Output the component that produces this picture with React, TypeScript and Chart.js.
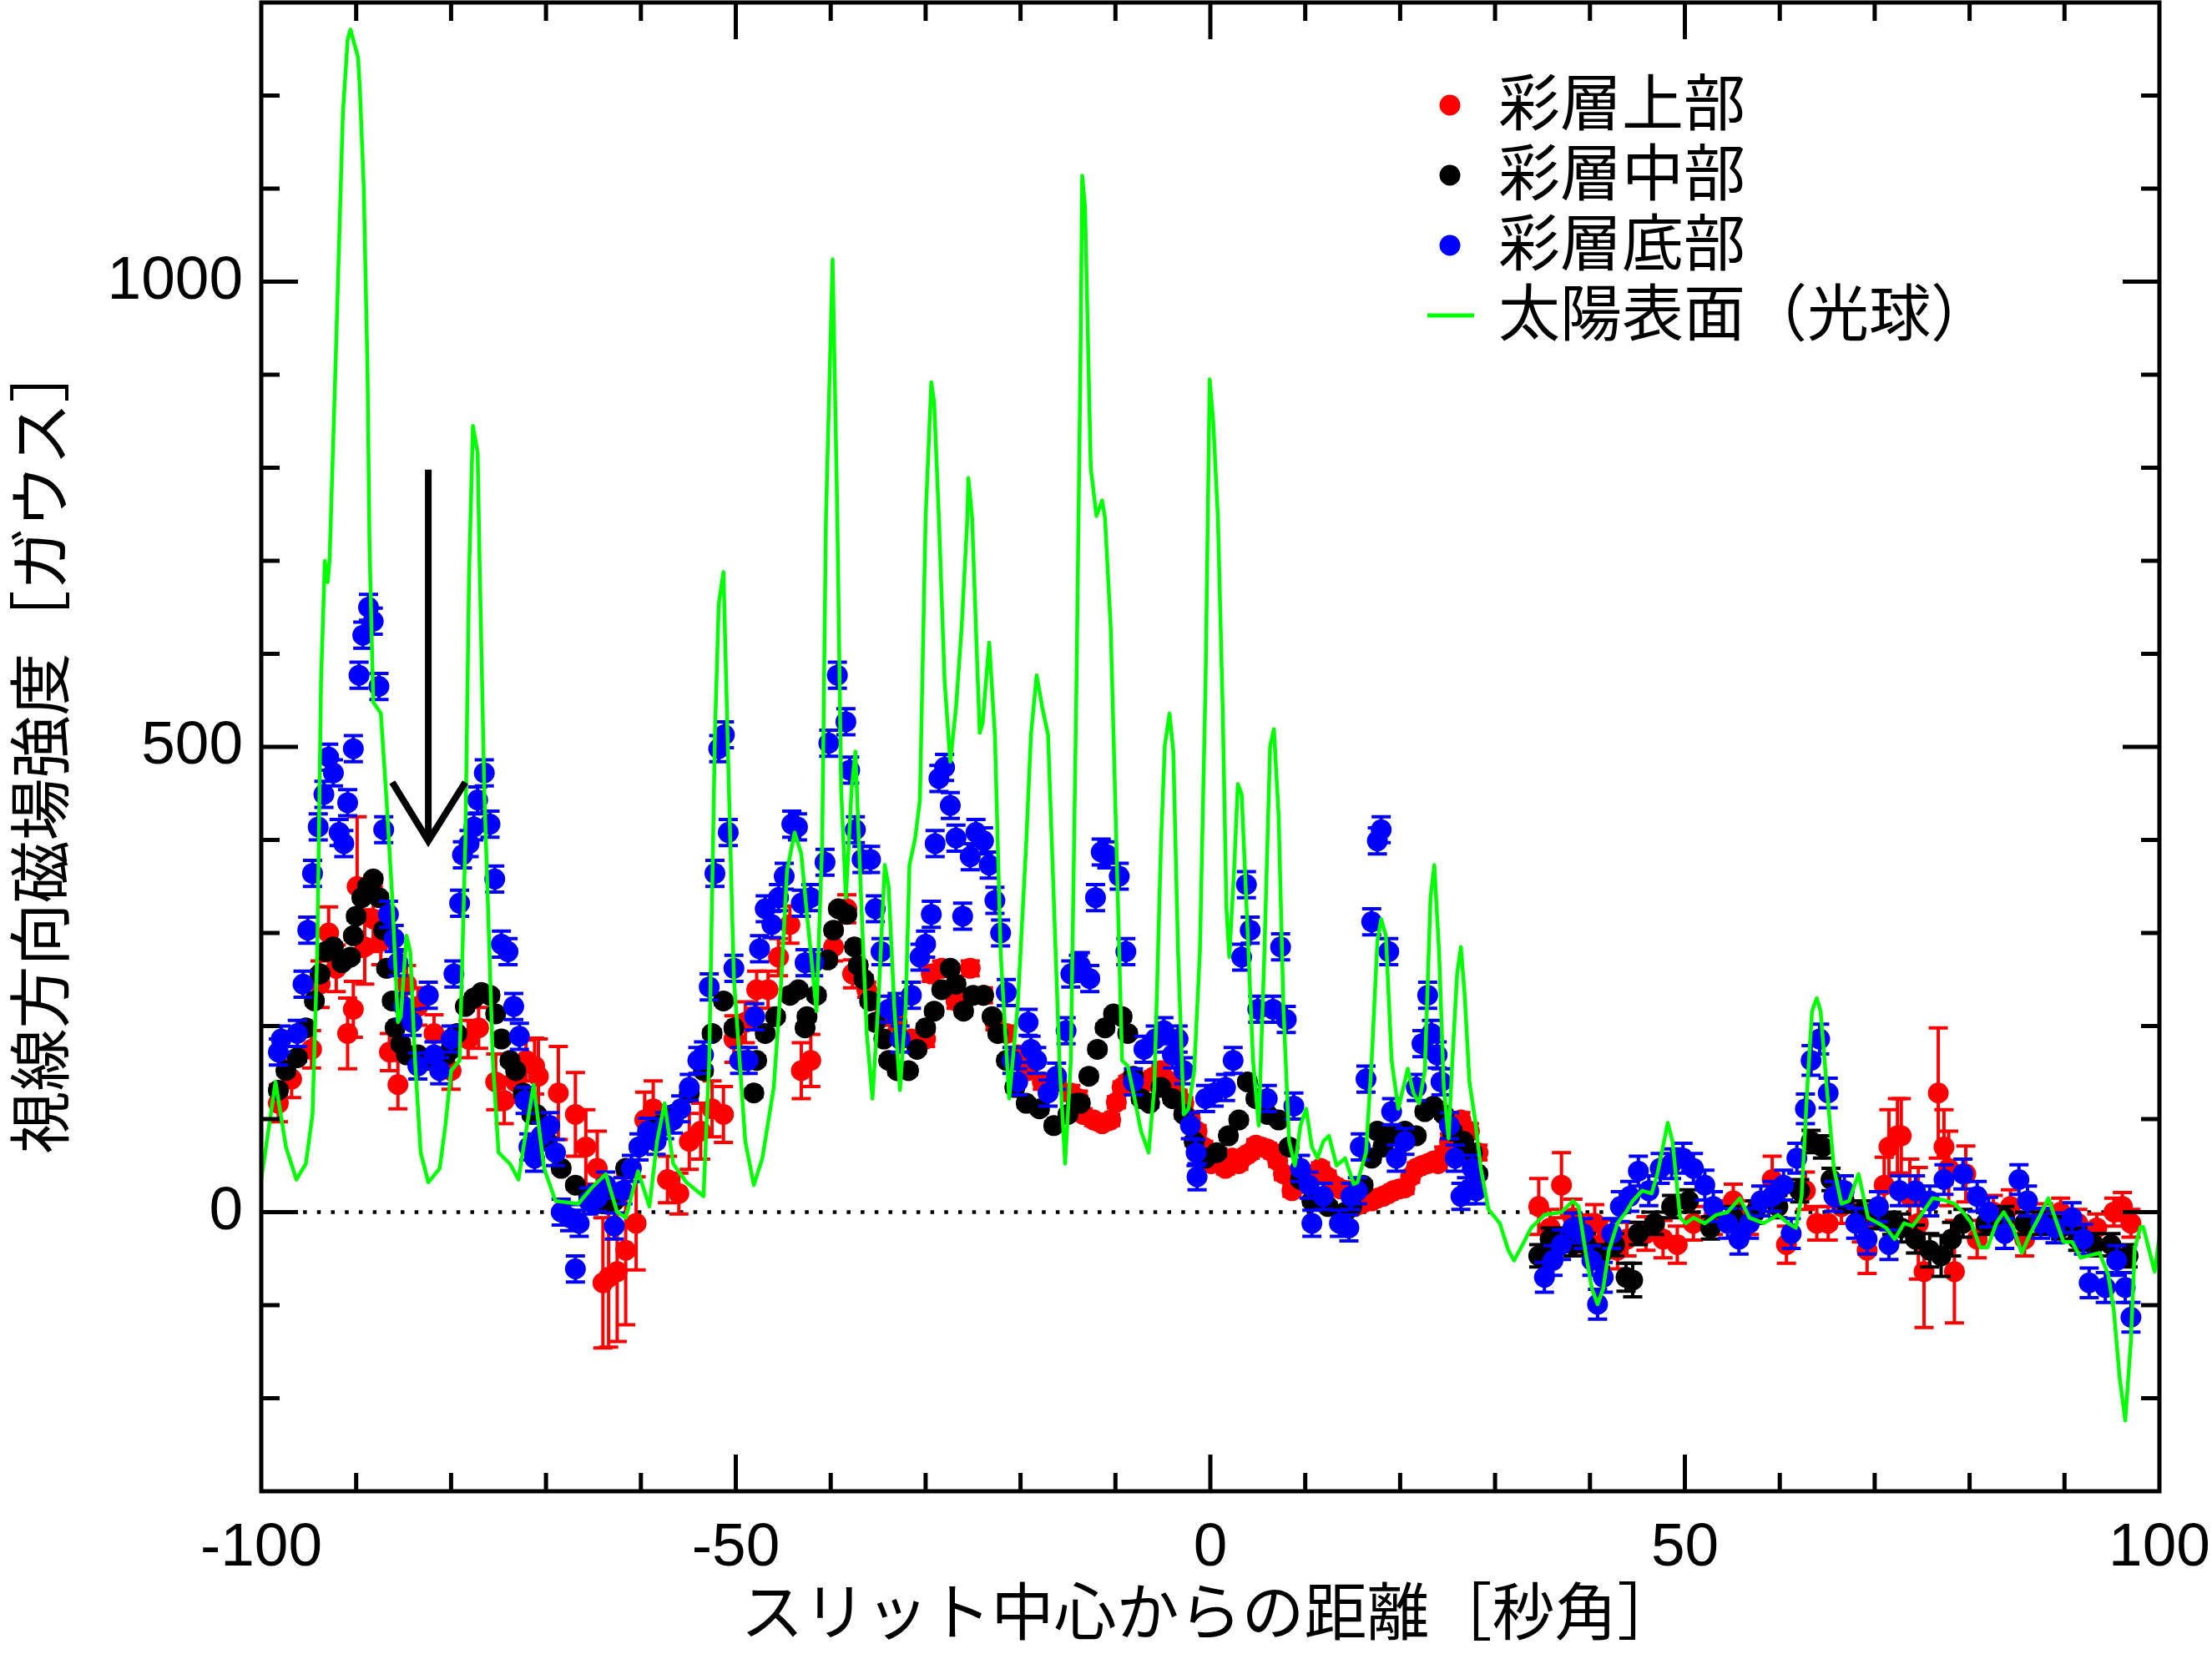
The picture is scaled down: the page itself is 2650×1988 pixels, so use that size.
import React, { useEffect, useRef } from 'react';
import { Chart, registerables } from 'chart.js';

Chart.register(...registerables);

// ---------- axes ----------
const X_MIN = -100;
const X_MAX = 100;
const Y_MIN = -300;
const Y_MAX = 1300;
const X_TICK_STEP = 10;
const X_LABEL_STEP = 50;
const Y_TICK_STEP = 100;
const Y_LABEL_STEP = 500;
const X_TITLE = 'スリット中心からの距離［秒角］';
const Y_TITLE = '視線方向磁場強度［ガウス］';

// ---------- legend ----------
const LEGEND_LABELS = ['彩層上部', '彩層中部', '彩層底部', '太陽表面（光球）'];
const SERIES_COLORS = ['#ff0000', '#000000', '#0000ff', '#00ff00'];

// ---------- data: [x, y, error] ----------
const RED_DATA: number[][] = [
  [-98.2, 117, 20], [-96.8, 143, 20], [-94.7, 175, 20], [-93.8, 245, 25], [-92.9, 300, 28], [-92.1, 262, 25],
  [-90.9, 192, 38], [-90.3, 218, 30], [-89.9, 350, 75], [-89.1, 285, 40], [-88.2, 315, 35], [-87.4, 291, 25],
  [-86.5, 172, 20], [-85.6, 137, 26], [-84.7, 245, 20], [-83.5, 221, 20], [-81.8, 192, 20], [-80.0, 152, 20],
  [-78.2, 186, 20], [-77.1, 198, 22], [-75.3, 140, 30], [-74.4, 120, 25], [-73.2, 140, 22], [-72.1, 163, 22],
  [-71.2, 157, 30], [-70.8, 146, 40], [-68.7, 128, 50], [-66.9, 105, 45], [-65.8, 70, 40], [-64.6, 47, 40],
  [-64.0, -76, 70], [-63.4, -70, 75], [-62.5, -64, 75], [-61.6, -41, 80], [-60.5, -12, 50], [-59.6, 99, 30],
  [-58.7, 111, 30], [-57.2, 35, 25], [-56.0, 20, 22], [-54.9, 76, 30], [-53.7, 87, 30], [-52.5, 111, 30],
  [-51.3, 105, 30], [-50.2, 186, 25], [-49.0, 204, 22], [-47.8, 239, 20], [-46.6, 239, 20], [-45.5, 274, 20],
  [-44.3, 309, 20], [-43.1, 152, 30], [-42.1, 163, 28], [-39.7, 285, 15], [-38.3, 326, 15], [-37.7, 256, 15],
  [-36.2, 239, 8], [-34.4, 210, 8], [-33.0, 204, 8], [-31.5, 186, 8], [-30.0, 186, 8], [-29.4, 256, 8],
  [-28.3, 262, 8], [-26.8, 227, 8], [-25.3, 262, 8], [-23.9, 233, 8], [-22.7, 204, 8], [-21.5, 192, 8],
  [-20.3, 169, 8], [-19.2, 152, 8], [-17.7, 140, 8], [-16.2, 140, 8], [-14.7, 128, 8], [-13.9, 122, 8],
  [-13.4, 105, 6], [-12.3, 99, 6], [-11.4, 95, 6], [-10.5, 99, 6], [-9.9, 118, 6], [-9.3, 134, 6],
  [-8.7, 140, 6], [-8.1, 140, 6], [-7.4, 138, 6], [-6.7, 140, 6], [-6.0, 145, 6], [-5.2, 152, 6],
  [-4.6, 142, 6], [-4.0, 134, 6], [-3.4, 125, 6], [-2.8, 117, 6], [-2.1, 100, 6], [-1.4, 87, 6],
  [-0.7, 70, 6], [0.1, 52, 6], [0.8, 62, 6], [1.6, 47, 6], [2.3, 58, 6], [3.0, 52, 6],
  [3.6, 60, 6], [4.2, 64, 6], [4.8, 72, 6], [5.4, 70, 6], [6.0, 68, 6], [6.6, 64, 6],
  [7.1, 55, 6], [7.7, 41, 6], [8.6, 23, 6], [9.3, 30, 6], [10.1, 35, 6], [10.8, 40, 6],
  [11.6, 47, 6], [12.3, 38, 6], [13.0, 29, 6], [13.7, 25, 6], [14.5, 23, 6], [15.2, 6, 6],
  [16.1, 10, 6], [17.0, 12, 6], [17.6, 15, 6], [18.2, 17, 6], [18.8, 20, 6], [19.3, 23, 6],
  [19.9, 25, 6], [20.5, 26, 6], [21.1, 38, 6], [21.7, 47, 6], [22.3, 50, 6], [22.9, 52, 6],
  [23.5, 55, 6], [24.0, 52, 6], [24.6, 62, 8], [25.2, 76, 8], [25.8, 90, 8], [26.4, 99, 8],
  [27.3, 87, 8], [28.2, 64, 8],
  [34.6, 6, 30], [35.8, -17, 20], [37.0, 29, 35], [38.2, -6, 20], [39.3, -23, 20], [40.5, -12, 20],
  [41.7, -29, 20], [42.9, -41, 20], [43.9, -29, 18], [45.9, -23, 18], [47.7, -29, 20], [49.2, -35, 20],
  [50.9, -12, 18], [53.0, -6, 18], [55.1, 12, 18], [56.8, -6, 18], [59.2, 35, 25], [60.7, -35, 20],
  [62.7, 23, 20], [63.9, -12, 18], [65.1, -12, 18], [66.5, 6, 18], [68.6, -12, 20], [69.2, -41, 25],
  [71.0, 29, 30], [71.5, 70, 40], [72.4, 82, 40], [72.8, 82, 40], [73.7, 17, 40], [74.6, -12, 60],
  [75.2, -64, 60], [76.7, 128, 70], [77.3, 70, 40], [77.8, 47, 40], [78.4, -64, 55], [79.6, 41, 30],
  [80.8, -29, 20], [82.5, 0, 18], [84.3, 6, 18], [85.8, -29, 18], [87.8, -6, 15], [89.6, 0, 15],
  [91.4, -12, 15], [93.4, -17, 15], [95.2, 0, 15], [96.1, 6, 15], [97.0, -12, 15],
];

const BLACK_DATA: number[][] = [
  [-98.2, 131, 4], [-97.4, 152, 4], [-96.2, 166, 4], [-95.3, 198, 4], [-94.4, 227, 4], [-93.8, 256, 4],
  [-93.2, 280, 4], [-92.4, 285, 4], [-91.5, 268, 4], [-90.6, 274, 4], [-90.3, 297, 4], [-90.0, 318, 4],
  [-89.4, 338, 4], [-88.8, 350, 4], [-88.2, 358, 4], [-87.6, 338, 4], [-87.1, 303, 4], [-86.8, 262, 4],
  [-86.2, 227, 4], [-85.9, 198, 4], [-85.3, 181, 4], [-84.7, 169, 4], [-84.1, 168, 4], [-83.5, 169, 4],
  [-82.9, 165, 4], [-82.4, 163, 4], [-81.8, 164, 4], [-81.2, 163, 4], [-80.6, 168, 4], [-80.0, 175, 4],
  [-79.4, 192, 4], [-78.5, 221, 4], [-77.6, 230, 4], [-76.8, 236, 4], [-75.9, 233, 4], [-75.3, 213, 4],
  [-74.7, 186, 4], [-73.8, 163, 4], [-73.2, 152, 4], [-72.4, 128, 4], [-71.5, 105, 4], [-71.0, 105, 4],
  [-69.9, 76, 4], [-68.4, 47, 4], [-66.9, 29, 4], [-65.5, 17, 4], [-64.0, 9, 4], [-62.8, 12, 4],
  [-61.6, 47, 4], [-60.2, 70, 4], [-58.1, 93, 4], [-56.6, 105, 4], [-54.9, 128, 4], [-53.4, 152, 4],
  [-52.5, 192, 4], [-51.3, 227, 4], [-50.2, 198, 4], [-49.0, 163, 4], [-48.1, 128, 4], [-47.8, 163, 4],
  [-46.9, 192, 4], [-45.8, 210, 4], [-44.3, 233, 4], [-43.4, 239, 4], [-42.5, 210, 4], [-42.7, 198, 4],
  [-41.5, 233, 4], [-40.3, 271, 4], [-39.7, 303, 4], [-39.2, 326, 4], [-38.3, 320, 4], [-37.5, 285, 4],
  [-37.1, 265, 4], [-36.5, 250, 4], [-35.9, 227, 4], [-35.3, 204, 4], [-34.4, 186, 4], [-33.9, 163, 4],
  [-33.0, 152, 4], [-31.8, 152, 4], [-30.9, 175, 4], [-30.0, 198, 4], [-29.1, 216, 4], [-28.3, 239, 4],
  [-27.4, 262, 4], [-26.8, 245, 4], [-26.0, 216, 4], [-25.0, 233, 4], [-23.9, 233, 4], [-23.0, 210, 4],
  [-22.4, 192, 4], [-21.5, 163, 4], [-20.6, 134, 4], [-19.4, 117, 4], [-18.0, 111, 4], [-16.5, 93, 4],
  [-15.0, 105, 4], [-14.1, 117, 4], [-13.7, 117, 4], [-12.8, 146, 4], [-11.9, 175, 4], [-11.1, 198, 4],
  [-10.2, 213, 4], [-9.3, 210, 4], [-8.7, 192, 4], [-8.1, 146, 4], [-7.3, 122, 4], [-6.4, 117, 4],
  [-5.2, 134, 4], [-4.0, 122, 4], [-2.8, 105, 4], [-1.7, 76, 4], [-0.5, 58, 4], [0.7, 64, 4],
  [1.9, 82, 4], [3.0, 99, 4], [3.9, 140, 4], [4.8, 122, 4], [6.0, 105, 4], [7.2, 99, 4],
  [8.3, 70, 4], [9.5, 35, 4], [10.7, 12, 4], [12.4, 6, 4], [14.2, 0, 4], [14.9, 6, 4],
  [16.1, 29, 4], [17.0, 58, 4], [17.6, 87, 4], [18.2, 70, 4], [19.1, 82, 4], [20.5, 87, 4],
  [21.7, 82, 4], [22.6, 108, 4], [23.5, 114, 4], [24.6, 105, 4], [25.5, 87, 4], [26.7, 76, 4],
  [27.6, 64, 4], [28.2, 41, 4], [34.6, -47, 12], [35.8, -29, 12], [37.0, -29, 12], [38.2, -35, 12],
  [39.6, -35, 12], [41.1, -47, 12], [42.6, -35, 12], [43.8, -70, 15], [44.5, -73, 18], [45.1, -23, 12],
  [46.8, -12, 12], [48.6, 6, 12], [50.4, 12, 12], [52.7, -17, 12], [55.1, -6, 12], [57.4, 0, 12],
  [59.8, 6, 12], [62.1, 23, 12], [63.3, 76, 12], [64.5, 70, 12], [65.4, 35, 12], [66.8, 12, 12],
  [68.6, 0, 12], [70.4, -6, 12], [71.8, -12, 12], [72.8, -17, 15], [74.3, -29, 15], [75.8, -41, 18],
  [77.0, -47, 22], [78.1, -29, 18], [79.3, -12, 15], [81.7, -12, 12], [83.7, -6, 12], [85.8, -12, 12],
  [87.8, -12, 12], [89.6, -17, 12], [91.4, -29, 12], [93.1, -35, 12], [94.9, -35, 12], [96.7, -47, 12],
];

const BLUE_DATA: number[][] = [
  [-98.2, 172, 14], [-97.9, 186, 14], [-96.2, 192, 14], [-95.6, 245, 14], [-95.1, 303, 14], [-94.6, 364, 14],
  [-94.0, 414, 14], [-93.4, 449, 14], [-92.9, 489, 14], [-92.4, 472, 14], [-91.8, 408, 14], [-91.3, 396, 14],
  [-90.9, 440, 14], [-90.3, 498, 14], [-89.7, 577, 14], [-89.3, 620, 14], [-88.7, 650, 14], [-88.2, 635, 14],
  [-87.6, 565, 14], [-87.1, 411, 14], [-86.6, 320, 14], [-86.0, 294, 14], [-85.6, 268, 14], [-85.0, 221, 14],
  [-84.1, 204, 14], [-83.5, 157, 14], [-82.4, 233, 14], [-81.8, 169, 14], [-81.2, 152, 14], [-80.0, 186, 14],
  [-79.7, 256, 14], [-79.1, 332, 14], [-78.8, 384, 14], [-78.1, 396, 14], [-77.6, 414, 14], [-77.2, 443, 14],
  [-76.5, 472, 14], [-75.9, 417, 14], [-75.4, 358, 14], [-74.7, 288, 14], [-74.0, 280, 14], [-73.4, 221, 14],
  [-72.8, 189, 14], [-72.2, 120, 14], [-71.8, 70, 14], [-71.2, 58, 14], [-70.5, 82, 14], [-69.6, 93, 14],
  [-69.0, 64, 14], [-68.4, 0, 14], [-67.5, -6, 14], [-66.9, -61, 14], [-66.5, -12, 14], [-65.5, 12, 14],
  [-64.6, 15, 14], [-63.7, 29, 14], [-62.8, -15, 14], [-61.9, 23, 14], [-61.0, 47, 14], [-60.2, 70, 14],
  [-59.3, 87, 14], [-58.4, 76, 14], [-57.5, 93, 14], [-56.6, 99, 14], [-55.8, 111, 14], [-54.9, 134, 14],
  [-54.0, 163, 14], [-53.4, 169, 14], [-52.8, 242, 14], [-52.2, 364, 14], [-51.8, 498, 14], [-51.2, 513, 14],
  [-50.8, 408, 14], [-50.2, 262, 14], [-49.6, 163, 14], [-48.7, 163, 14], [-48.0, 210, 14], [-47.5, 283, 14],
  [-46.9, 326, 14], [-46.2, 309, 14], [-45.5, 338, 14], [-44.9, 361, 14], [-44.1, 417, 14], [-43.5, 414, 14],
  [-43.1, 332, 14], [-42.7, 268, 14], [-42.1, 338, 14], [-41.8, 268, 14], [-40.6, 376, 14], [-40.2, 504, 14],
  [-39.3, 577, 14], [-38.4, 527, 14], [-38.0, 475, 14], [-37.4, 411, 14], [-36.7, 379, 14], [-35.8, 379, 14],
  [-35.3, 326, 14], [-34.7, 280, 14], [-33.9, 218, 14], [-33.0, 221, 14], [-32.7, 186, 14], [-31.5, 233, 14],
  [-30.6, 274, 14], [-30.0, 288, 14], [-29.4, 320, 14], [-29.0, 396, 14], [-28.6, 466, 14], [-28.0, 478, 14],
  [-27.4, 437, 14], [-26.8, 402, 14], [-26.1, 318, 14], [-25.3, 382, 14], [-24.7, 408, 14], [-23.9, 399, 14],
  [-23.3, 373, 14], [-22.7, 335, 14], [-22.1, 300, 14], [-21.5, 236, 14], [-20.9, 163, 14], [-20.3, 140, 14],
  [-19.2, 204, 14], [-18.9, 175, 14], [-18.3, 163, 14], [-17.1, 128, 14], [-16.2, 146, 14], [-15.2, 195, 14],
  [-14.7, 256, 14], [-13.9, 262, 14], [-13.7, 265, 14], [-12.7, 251, 14], [-12.1, 338, 14], [-11.5, 387, 14],
  [-10.9, 384, 14], [-9.6, 361, 14], [-8.9, 280, 14], [-8.1, 140, 14], [-7.0, 175, 14], [-5.8, 186, 14],
  [-4.9, 195, 14], [-4.0, 169, 14], [-3.4, 186, 14], [-2.8, 152, 14], [-2.1, 93, 14], [-1.5, 64, 14],
  [-1.4, 38, 14], [-0.5, 122, 14], [0.4, 128, 14], [1.6, 134, 14], [2.4, 163, 14], [3.3, 274, 14],
  [3.8, 352, 14], [4.2, 303, 14], [5.0, 218, 14], [6.0, 122, 14], [6.6, 218, 14], [7.4, 285, 14],
  [8.0, 207, 14], [8.8, 114, 14], [9.5, 47, 14], [10.4, 29, 14], [10.7, -12, 14], [11.9, 17, 14],
  [13.6, -12, 14], [14.8, 17, 14], [14.6, -17, 14], [15.5, 23, 14], [15.8, 70, 14], [16.4, 143, 14],
  [17.0, 312, 14], [17.6, 399, 14], [18.0, 411, 14], [18.8, 280, 14], [19.1, 108, 14], [19.6, 58, 14],
  [20.5, 76, 14], [21.7, 134, 14], [22.3, 181, 14], [22.9, 233, 14], [23.3, 192, 14], [23.9, 169, 14],
  [24.3, 140, 14], [25.2, 93, 14], [25.8, 58, 14], [26.4, 17, 14], [27.0, 23, 14], [27.6, 47, 14],
  [28.0, 23, 14], [35.2, -70, 16], [36.1, -52, 16], [37.0, -35, 16], [38.2, -17, 16], [39.3, -23, 16],
  [40.2, -52, 16], [40.8, -99, 16], [41.4, -70, 16], [42.3, -23, 16], [43.2, 6, 16], [44.2, 17, 16],
  [45.1, 44, 16], [46.2, 23, 16], [47.4, 47, 16], [48.6, 52, 16], [49.8, 58, 16], [50.9, 47, 16],
  [52.1, 29, 16], [53.0, 6, 16], [54.5, -12, 16], [55.7, -29, 16], [56.8, -12, 16], [58.0, 12, 16],
  [59.2, 17, 16], [60.4, 29, 16], [61.2, -23, 16], [61.8, 58, 16], [62.7, 111, 16], [63.3, 163, 16],
  [64.2, 186, 16], [65.1, 128, 16], [65.7, 17, 16], [66.8, 23, 16], [68.0, -12, 16], [69.2, -29, 16],
  [70.4, 6, 16], [71.5, -35, 16], [72.6, 23, 16], [74.3, 23, 16], [75.8, 12, 16], [77.3, 35, 16],
  [79.3, 41, 16], [80.8, 17, 16], [82.0, 0, 16], [83.7, -23, 16], [85.2, 35, 16], [86.1, 12, 16],
  [87.5, -12, 16], [89.0, -17, 16], [90.8, -6, 16], [92.0, -29, 16], [92.6, -76, 16], [94.3, -81, 16],
  [95.5, -52, 16], [96.4, -81, 16], [97.0, -113, 16],
];

// photosphere line: [x, y]
const GREEN_DATA: number[][] = [
  [-100, 35], [-98.5, 140], [-97.4, 70], [-96.3, 35], [-95.3, 52], [-94.6, 105], [-94.1, 280], [-93.7, 571],
  [-93.3, 700], [-93.0, 677], [-92.8, 701], [-92.2, 901], [-91.4, 1181], [-90.9, 1260], [-90.6, 1271],
  [-89.8, 1241], [-89.6, 1205], [-89.2, 1101], [-88.8, 901], [-88.6, 720], [-88.2, 548], [-87.4, 536],
  [-86.8, 443], [-86.2, 338], [-85.6, 204], [-85.3, 210], [-84.7, 297], [-84.3, 280], [-83.8, 163],
  [-83.2, 64], [-82.4, 32], [-81.2, 47], [-80.6, 93], [-80.0, 152], [-79.1, 163], [-78.5, 396],
  [-78.1, 688], [-77.7, 845], [-77.2, 816], [-77.0, 700], [-76.5, 454], [-75.6, 163], [-75.0, 64],
  [-74.4, 58], [-73.8, 52], [-72.9, 35], [-72.1, 87], [-71.3, 137], [-70.2, 47], [-69.0, 12], [-66.6, 9],
  [-65.2, 26], [-63.7, 41], [-62.5, 0], [-61.6, -6], [-60.3, 44], [-59.1, 6], [-58.3, 76], [-57.5, 117],
  [-56.6, 52], [-55.2, 32], [-53.4, 17], [-52.8, 163], [-52.2, 513], [-51.8, 653], [-51.3, 688],
  [-50.8, 484], [-50.2, 251], [-49.0, 76], [-48.1, 29], [-47.2, 58], [-46.0, 134], [-45.2, 251],
  [-44.6, 367], [-43.8, 408], [-43.1, 385], [-42.5, 320], [-42.2, 290], [-41.5, 216], [-40.9, 396],
  [-40.5, 746], [-39.8, 1024], [-39.3, 746], [-38.9, 454], [-38.4, 338], [-37.8, 454], [-37.4, 495],
  [-36.8, 338], [-36.2, 192], [-35.6, 122], [-35.0, 221], [-34.3, 373], [-33.9, 350], [-33.3, 221],
  [-32.7, 131], [-32.1, 221], [-31.7, 373], [-31.1, 402], [-30.6, 443], [-30.0, 746], [-29.4, 892],
  [-29.1, 870], [-28.6, 746], [-28.0, 571], [-27.4, 484], [-26.8, 542], [-26.2, 629], [-25.6, 746],
  [-25.5, 789], [-25.1, 746], [-24.6, 600], [-24.3, 515], [-24.0, 525], [-23.3, 612], [-22.7, 513],
  [-22.1, 280], [-21.2, 122], [-20.3, 221], [-19.4, 396], [-18.9, 513], [-18.3, 577], [-17.7, 542],
  [-17.1, 513], [-16.5, 338], [-15.9, 163], [-15.3, 52], [-14.7, 163], [-14.1, 571], [-13.7, 900],
  [-13.5, 1114], [-13.2, 1080], [-12.6, 800], [-12.0, 748], [-11.4, 765], [-11.1, 746], [-10.5, 629],
  [-9.9, 396], [-9.3, 163], [-8.7, 157], [-8.1, 128], [-7.3, 87], [-6.5, 64], [-5.9, 134], [-5.2, 396],
  [-4.8, 501], [-4.3, 536], [-3.9, 495], [-3.4, 280], [-2.8, 105], [-2.3, 111], [-1.7, 152], [-1.1, 280],
  [-0.5, 571], [-0.07, 895], [0.3, 850], [0.8, 746], [1.3, 542], [1.7, 326], [2.0, 274], [2.5, 367],
  [2.9, 460], [3.3, 449], [3.9, 309], [4.5, 163], [5.1, 93], [5.7, 280], [6.3, 501], [6.7, 519],
  [7.2, 425], [7.7, 221], [8.3, 76], [8.9, 50], [9.5, 93], [10.1, 111], [10.7, 70], [11.3, 58],
  [11.9, 76], [12.5, 82], [13.3, 50], [14.2, 58], [15.1, 30], [15.5, 32], [16.4, 64], [17.0, 163],
  [17.6, 291], [18.0, 315], [18.5, 297], [19.1, 163], [19.8, 111], [20.2, 128], [20.8, 154], [21.4, 128],
  [22.0, 117], [22.6, 152], [23.2, 338], [23.6, 373], [24.1, 280], [24.6, 134], [25.1, 79], [25.5, 163],
  [26.0, 256], [26.4, 285], [26.8, 233], [27.3, 140], [27.9, 99], [28.5, 47], [29.3, 3], [30.5, -12],
  [31.4, -41], [32.0, -52], [32.9, -35], [33.8, -17], [35.2, -3], [37.0, 0], [38.2, 12], [38.8, 6],
  [39.6, -47], [40.2, -82], [40.8, -99], [41.4, -82], [42.0, -41], [42.9, -12], [43.8, 0], [44.5, 12],
  [45.5, 23], [46.5, 20], [47.1, 41], [48.2, 96], [48.7, 76], [49.5, -6], [50.1, -12], [50.9, -6],
  [52.1, -12], [53.3, -3], [54.5, 0], [55.8, 15], [56.8, -6], [58.3, -12], [59.8, -3], [60.9, -12],
  [61.7, -17], [62.3, 17], [62.9, 134], [63.4, 216], [63.9, 230], [64.3, 216], [64.9, 140], [65.7, 47],
  [66.5, 9], [67.3, 12], [68.3, 41], [69.3, -6], [70.4, -12], [71.2, -17], [72.1, -29], [73.1, -12],
  [74.0, -15], [74.9, -3], [76.1, 15], [77.3, 13], [78.4, 9], [79.3, 0], [80.2, -12], [81.1, -38],
  [81.9, -38], [82.8, -12], [83.6, 0], [84.6, -17], [85.5, -44], [86.4, -23], [87.3, -6], [88.3, 15],
  [89.0, -6], [89.9, -32], [90.8, -32], [91.7, -49], [92.5, -47], [93.7, -44], [94.6, -67], [95.2, -106],
  [95.8, -177], [96.4, -224], [97.0, -138], [97.4, -39], [98.0, -16], [98.3, -16], [99.5, -64], [100, -26],
];

// zero reference (dotted) and arrow annotation
const ZERO_LINE: number[][] = [[-100, 0], [100, 0]];
const ARROW_SHAFT: number[][] = [[-82.4, 798], [-82.4, 399]];
const ARROW_HEAD: number[][] = [[-86.2, 462], [-82.4, 399], [-78.5, 462]];

const TICK_FONT = "'Liberation Sans', Arial, Helvetica, sans-serif";
const CJK_FONT = "'Noto Sans CJK JP', 'Noto Sans CJK SC', sans-serif";

const toXY = (arr: number[][]) => arr.map((p) => ({ x: p[0], y: p[1] }));
const toErr = (arr: number[][]) => arr.map((p) => p[2]);

const errorBarPlugin = {
  id: 'errorBars',
  beforeDatasetDraw(chart: any, args: any) {
    const ds = chart.data.datasets[args.index];
    if (!ds.errorBars) return;
    const { ctx, chartArea: a } = chart;
    const xs = chart.scales.x;
    const ys = chart.scales.y;
    ctx.save();
    ctx.beginPath();
    ctx.rect(a.left, a.top, a.right - a.left, a.bottom - a.top);
    ctx.clip();
    ctx.strokeStyle = ds.backgroundColor;
    ctx.lineWidth = 4;
    ctx.lineCap = 'butt';
    const cap = 11.5;
    ds.data.forEach((p: any, i: number) => {
      const e = ds.errorBars[i];
      const px = xs.getPixelForValue(p.x);
      const y1 = ys.getPixelForValue(p.y - e);
      const y2 = ys.getPixelForValue(p.y + e);
      ctx.beginPath();
      ctx.moveTo(px, y1);
      ctx.lineTo(px, y2);
      ctx.moveTo(px - cap, y1);
      ctx.lineTo(px + cap, y1);
      ctx.moveTo(px - cap, y2);
      ctx.lineTo(px + cap, y2);
      ctx.stroke();
    });
    ctx.restore();
  },
};

const framePlugin = {
  id: 'frame',
  afterDatasetsDraw(chart: any) {
    const { ctx, chartArea: a } = chart;
    const xs = chart.scales.x;
    const ys = chart.scales.y;
    ctx.save();
    ctx.strokeStyle = '#000';
    ctx.lineWidth = 5;
    ctx.lineCap = 'butt';
    ctx.beginPath();
    for (let v = X_MIN + X_TICK_STEP; v < X_MAX; v += X_TICK_STEP) {
      const px = xs.getPixelForValue(v);
      const len = v % X_LABEL_STEP === 0 ? 44 : 22;
      ctx.moveTo(px, a.bottom);
      ctx.lineTo(px, a.bottom - len);
      ctx.moveTo(px, a.top);
      ctx.lineTo(px, a.top + len);
    }
    for (let v = Y_MIN + Y_TICK_STEP; v < Y_MAX; v += Y_TICK_STEP) {
      const py = ys.getPixelForValue(v);
      const len = v % Y_LABEL_STEP === 0 ? 44 : 22;
      ctx.moveTo(a.left, py);
      ctx.lineTo(a.left + len, py);
      ctx.moveTo(a.right, py);
      ctx.lineTo(a.right - len, py);
    }
    ctx.stroke();
    ctx.strokeRect(a.left, a.top, a.right - a.left, a.bottom - a.top);
    ctx.restore();
  },
};

const legendPlugin = {
  id: 'customLegend',
  afterDraw(chart: any) {
    const { ctx } = chart;
    ctx.save();
    ctx.font = `74px ${CJK_FONT}`;
    ctx.textBaseline = 'middle';
    ctx.textAlign = 'left';
    LEGEND_LABELS.forEach((label, i) => {
      const y = 124 + i * 84;
      const color = SERIES_COLORS[i];
      if (i < 3) {
        ctx.fillStyle = color;
        ctx.beginPath();
        ctx.arc(1737, y + 2, 12.5, 0, Math.PI * 2);
        ctx.fill();
      } else {
        ctx.strokeStyle = color;
        ctx.lineWidth = 5;
        ctx.beginPath();
        ctx.moveTo(1710, y + 2);
        ctx.lineTo(1766, y + 2);
        ctx.stroke();
      }
      ctx.fillStyle = '#000';
      ctx.fillText(label, 1795, y - 2);
    });
    ctx.restore();
  },
};

export default function App() {
  const canvasRef = useRef<HTMLCanvasElement | null>(null);

  useEffect(() => {
    const canvas = canvasRef.current;
    if (!canvas) return;
    const pointSet = (data: number[][], color: string, order: number, label: string) => ({
      type: 'scatter',
      label,
      data: toXY(data),
      errorBars: toErr(data),
      backgroundColor: color,
      borderColor: color,
      borderWidth: 0,
      pointRadius: 12.5,
      pointHoverRadius: 12.5,
      showLine: false,
      order,
    });
    const lineSet = (data: number[][], color: string, width: number, order: number, label: string, extra: any = {}) => ({
      type: 'scatter',
      label,
      data: toXY(data),
      borderColor: color,
      backgroundColor: color,
      borderWidth: width,
      pointRadius: 0,
      pointHoverRadius: 0,
      showLine: true,
      tension: 0,
      order,
      ...extra,
    });

    const chart = new Chart(canvas, {
      type: 'scatter',
      data: {
        datasets: [
          lineSet(ARROW_SHAFT, '#000000', 8, 0, 'arrow', { borderCapStyle: 'butt' }),
          lineSet(ARROW_HEAD, '#000000', 8, 0, 'arrowHead', { borderJoinStyle: 'miter', borderCapStyle: 'butt' }),
          lineSet(GREEN_DATA, SERIES_COLORS[3], 4.5, 1, LEGEND_LABELS[3], { borderJoinStyle: 'round' }),
          pointSet(BLUE_DATA, SERIES_COLORS[2], 2, LEGEND_LABELS[2]),
          pointSet(BLACK_DATA, SERIES_COLORS[1], 3, LEGEND_LABELS[1]),
          pointSet(RED_DATA, SERIES_COLORS[0], 4, LEGEND_LABELS[0]),
          lineSet(ZERO_LINE, '#000000', 4.5, 5, 'zero', { borderDash: [4.5, 12.2], borderCapStyle: 'butt' }),
        ] as any,
      },
      options: {
        animation: false,
        responsive: false,
        devicePixelRatio: 1,
        events: [],
        layout: { autoPadding: false, padding: { top: 3, right: 63, left: 0, bottom: 0 } },
        plugins: {
          legend: { display: false },
          tooltip: { enabled: false },
        },
        scales: {
          x: {
            type: 'linear',
            min: X_MIN,
            max: X_MAX,
            grid: { display: false, drawTicks: false },
            border: { display: false },
            ticks: {
              stepSize: X_TICK_STEP,
              autoSkip: false,
              maxRotation: 0,
              minRotation: 0,
              padding: 25,
              color: '#000',
              font: { family: TICK_FONT, size: 73 },
              callback: (v: any) => (Number(v) % X_LABEL_STEP === 0 ? String(v) : ''),
            },
            title: {
              display: true,
              text: X_TITLE,
              color: '#000',
              font: { family: CJK_FONT, size: 75 },
              padding: { top: 0, bottom: 13 },
            },
            afterFit: (s: any) => {
              s.height = 201;
              s.paddingLeft = 0;
              s.paddingRight = 0;
            },
          },
          y: {
            type: 'linear',
            min: Y_MIN,
            max: Y_MAX,
            grid: { display: false, drawTicks: false },
            border: { display: false },
            ticks: {
              stepSize: Y_TICK_STEP,
              autoSkip: false,
              padding: 22,
              color: '#000',
              font: { family: TICK_FONT, size: 73 },
              callback: (v: any) => (Number(v) % Y_LABEL_STEP === 0 ? String(v) : ''),
            },
            title: {
              display: true,
              text: Y_TITLE,
              color: '#000',
              font: { family: CJK_FONT, size: 75 },
              padding: { top: 2, bottom: 0 },
            },
            afterFit: (s: any) => {
              s.width = 313;
              s.paddingTop = 0;
              s.paddingBottom = 0;
            },
          },
        },
      } as any,
      plugins: [errorBarPlugin, framePlugin, legendPlugin],
    });

    return () => {
      chart.destroy();
    };
  }, []);

  return (
    <div style={{ position: 'absolute', left: 0, top: 0, width: 2650, height: 1988, background: '#ffffff' }}>
      <canvas ref={canvasRef} width={2650} height={1988} style={{ display: 'block' }} />
    </div>
  );
}
